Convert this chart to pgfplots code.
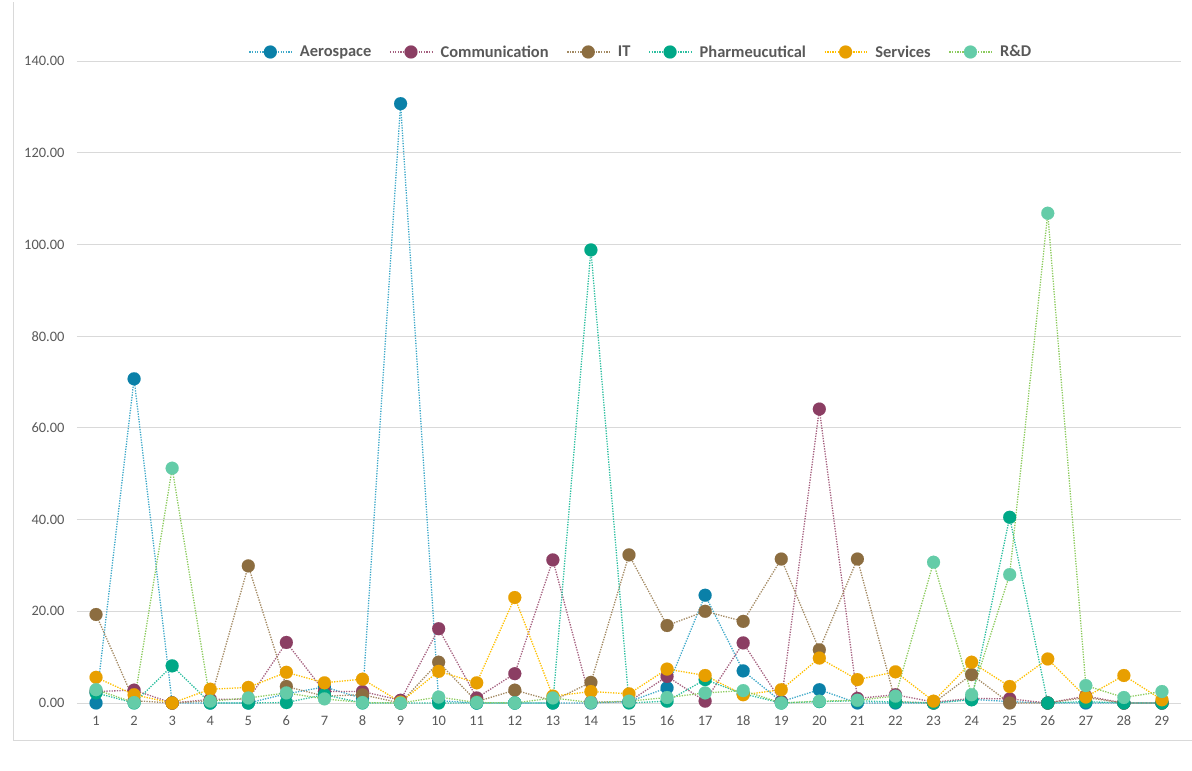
\documentclass[border=0pt]{standalone}
\usepackage{pgfplots}
\usepackage{pgfplotstable}
\pgfplotsset{compat=1.18}
\usepackage{fontspec}
\setmainfont{Carlito}
\definecolor{aeroM}{HTML}{0A80A8}
\definecolor{aeroL}{HTML}{3FA9C9}
\definecolor{commM}{HTML}{8B3E63}
\definecolor{commL}{HTML}{A5607F}
\definecolor{itM}{HTML}{8C6D40}
\definecolor{itL}{HTML}{A38A63}
\definecolor{phM}{HTML}{00A887}
\definecolor{phL}{HTML}{2DBFA0}
\definecolor{svM}{HTML}{E89F00}
\definecolor{svL}{HTML}{FFC000}
\definecolor{rdM}{HTML}{64CCA8}
\definecolor{rdL}{HTML}{8CCB5E}
\definecolor{gridc}{HTML}{D9D9D9}
\definecolor{txt}{HTML}{595959}

\pgfplotstableread{
x  aero   comm  it    ph    sv    rd
1  0      2.5   19.3  2.2   5.6   2.9
2  70.7   2.8   0.5   0     1.8   0.1
3  0      0     0     8.1   0     51.2
4  0      0.8   0.5   0     3.0   0.4
5  0      0.8   29.9  0     3.4   1.1
6  2.0    13.2  3.6   0.1   6.7   2.2
7  3.5    2.5   1.5   1.8   4.4   0.9
8  1.0    2.5   1.8   0     5.2   0.1
9  130.7  0.6   0     0     0.2   0
10 0.5    16.2  8.9   0     6.9   1.3
11 0      1.1   0.3   0     4.4   0.1
12 0      6.4   2.8   0     23.0  0
13 0      31.2  0.5   0     1.5   1.1
14 0      0.2   4.5   98.8  2.5   0.1
15 0.3    0.3   32.3  0     2.0   0.4
16 3.3    5.8   16.9  0.4   7.4   1.2
17 23.5   0.4   20.0  5.1   6.0   2.2
18 7.0    13.1  17.8  2.0   1.8   2.7
19 0.3    0.3   31.4  0     2.9   0
20 2.9    64.1  11.6  0.3   9.8   0.4
21 0      1.0   31.4  0.5   5.1   0.6
22 0      1.8   0.3   0.2   6.8   1.5
23 0      0.2   0     0     0.4   30.7
24 0.8    1.0   6.2   0.7   8.9   1.8
25 0.3    0.9   0     40.5  3.6   28.0
26 0      0     0     0     9.6   106.8
27 0      1.5   1.2   0.3   1.3   3.8
28 0      0     0     0     6.0   1.2
29 0      0     0     0     0.7   2.5
}\data

\pgfplotsset{
  ser/.style 2 args={color=#1, line width=1.3bp, dash pattern=on 1.3bp off 1.3bp,
    mark=*, mark size=6.5bp, mark options={solid, fill=#2, draw=#2, line width=0.1bp}},
}

\begin{document}
\begin{tikzpicture}
\useasboundingbox (-77bp,-68bp) rectangle (1115bp,703bp);
\draw[gridc, line width=1bp] (-63.5bp,-37bp) -- (-63.5bp,701bp);
\draw[gridc, line width=1bp] (-63.5bp,-37bp) -- (1115bp,-37bp);
\begin{axis}[
  scale only axis, width=1104bp, height=642bp,
  xmin=0.5, xmax=29.5, ymin=0, ymax=140,
  xtick={1,...,29}, ytick={0,20,...,140},
  ymajorgrids, grid style={gridc, line width=0.9bp},
  axis line style={draw=none},
  major tick length=0pt,
  ticklabel style={font=\fontsize{14.5}{17}\selectfont, text=txt},
  /pgf/number format/assume math mode=true,
  yticklabel style={/pgf/number format/.cd, fixed, fixed zerofill, precision=2, /tikz/.cd, xshift=-9bp},
  xticklabel style={yshift=-9.5bp},
  clip=false,
  legend columns=6,
  legend style={draw=none, fill=none, at={(0.5,1)}, anchor=center, xshift=12bp, yshift=9bp,
    font=\bfseries\fontsize{16.5}{18}\selectfont, text=txt,
    /tikz/every even column/.append style={column sep=16bp},
    /tikz/every odd column/.append style={column sep=6bp}},
  legend image code/.code={\draw[mark repeat=2, mark phase=2, #1] plot coordinates {(0bp,0bp) (21bp,0bp) (42bp,0bp)};},
]
\addplot[ser={aeroL}{aeroM}] table[x=x, y=aero] {\data};
\addlegendentry{Aerospace}
\addplot[ser={commL}{commM}] table[x=x, y=comm] {\data};
\addlegendentry{Communication}
\addplot[ser={itL}{itM}] table[x=x, y=it] {\data};
\addlegendentry{IT}
\addplot[ser={phL}{phM}] table[x=x, y=ph] {\data};
\addlegendentry{Pharmeucutical}
\addplot[ser={svL}{svM}] table[x=x, y=sv] {\data};
\addlegendentry{Services}
\addplot[ser={rdL}{rdM}] table[x=x, y=rd] {\data};
\addlegendentry{R\&D}
\end{axis}
\end{tikzpicture}
\end{document}
